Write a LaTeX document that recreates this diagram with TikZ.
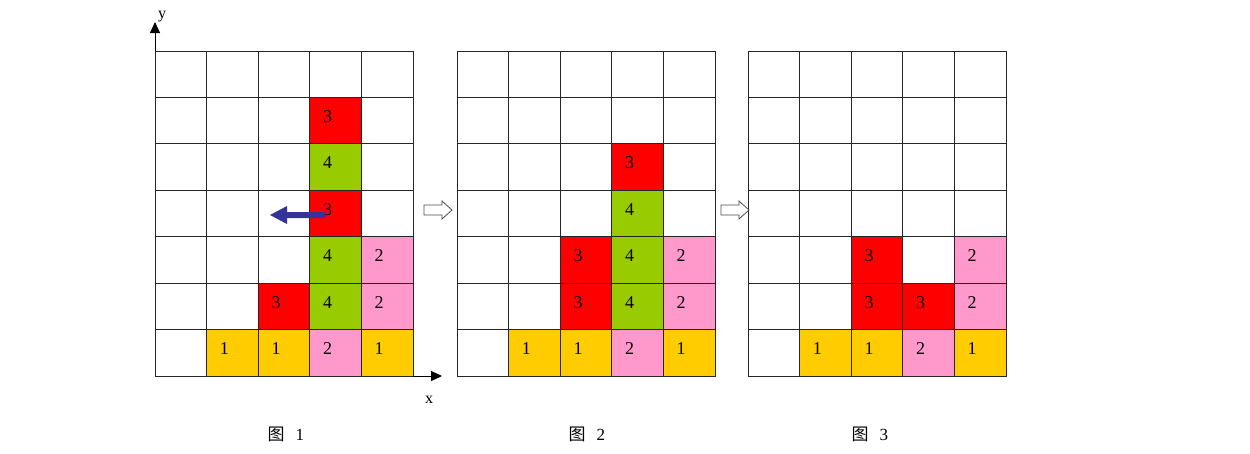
\documentclass[tikz,border=0pt]{standalone}
\usepackage{fontspec}
\setmainfont{Liberation Serif}
\newfontfamily\cjk{Noto Sans CJK SC}
\usetikzlibrary{arrows.meta}
\definecolor{cred}{RGB}{255,0,0}
\definecolor{cgrn}{RGB}{153,204,0}
\definecolor{cpnk}{RGB}{255,153,204}
\definecolor{cyel}{RGB}{255,204,0}
\definecolor{cblue}{RGB}{51,51,153}
\begin{document}
\begin{tikzpicture}[x=1pt,y=-1pt,
  cellbox/.style={draw=black!85,line width=0.8pt,minimum width=51.6pt,minimum height=46.43pt,inner sep=0pt,outer sep=0pt},
  numtxt/.style={font=\fontsize{18}{18}\selectfont,xshift=-8pt,yshift=4pt},
  hollow/.style={draw=black!70,line width=0.8pt,fill=white},
  axis/.style={line width=1pt,-{Triangle[length=11pt,width=10pt]}},
  caption/.style={font=\fontsize{17}{17}\selectfont,anchor=west}]
\useasboundingbox (0,0) rectangle (1250,453);
\def\cw{51.6}
\def\ch{46.43}
% grids
\foreach \g/\xo in {1/155,2/457,3/748}{
  \foreach \c in {0,...,4}{
    \foreach \r in {0,...,6}{
      \node[cellbox,fill=white] (g\g-\c-\r) at ({\xo+(\c+0.5)*\cw},{376-(\r+0.5)*\ch}) {};
    }
  }
}
% grid 1 colours
\foreach \c/\r/\col/\t in {1/0/cyel/1,2/0/cyel/1,3/0/cpnk/2,4/0/cyel/1,2/1/cred/3,3/1/cgrn/4,4/1/cpnk/2,3/2/cgrn/4,4/2/cpnk/2,3/3/cred/3,3/4/cgrn/4,3/5/cred/3}{
  \node[cellbox,fill=\col,label={[numtxt]center:\t}] at (g1-\c-\r) {};
}
% grid 2 colours
\foreach \c/\r/\col/\t in {1/0/cyel/1,2/0/cyel/1,3/0/cpnk/2,4/0/cyel/1,2/1/cred/3,3/1/cgrn/4,4/1/cpnk/2,2/2/cred/3,3/2/cgrn/4,4/2/cpnk/2,3/3/cgrn/4,3/4/cred/3}{
  \node[cellbox,fill=\col,label={[numtxt]center:\t}] at (g2-\c-\r) {};
}
% grid 3 colours
\foreach \c/\r/\col/\t in {1/0/cyel/1,2/0/cyel/1,3/0/cpnk/2,4/0/cyel/1,2/1/cred/3,3/1/cred/3,4/1/cpnk/2,2/2/cred/3,4/2/cpnk/2}{
  \node[cellbox,fill=\col,label={[numtxt]center:\t}] at (g3-\c-\r) {};
}
% axes
\coordinate (ytip) at (155,22);
\coordinate (xtip) at (442,376);
\draw[axis] (g1-0-6.north west) -- (ytip);
\draw[axis] (g1-4-0.south east) -- (xtip);
\node[font=\fontsize{16}{16}\selectfont] (ylab) at (162,17) {y};
\node[font=\fontsize{16}{16}\selectfont] (xlab) at (429,400) {x};
% blue move arrow
\fill[cblue] (325,212) -- (287,212) -- (287,206) -- (270,215) -- (287,224) -- (287,218) -- (325,218) -- cycle;
% hollow arrows
\draw[hollow] (424,205) -- (442,205) -- (442,201) -- (452,210) -- (442,219) -- (442,215) -- (424,215) -- cycle;
\draw[hollow] (721,205) -- (739,205) -- (739,201) -- (749,210) -- (739,219) -- (739,215) -- (721,215) -- cycle;
% captions
\node[caption] (cap1) at (264,434) {{\cjk 图}\hspace{11pt}1};
\node[caption] (cap2) at (565,434) {{\cjk 图}\hspace{11pt}2};
\node[caption] (cap3) at (848,434) {{\cjk 图}\hspace{11pt}3};
\end{tikzpicture}
\end{document}
